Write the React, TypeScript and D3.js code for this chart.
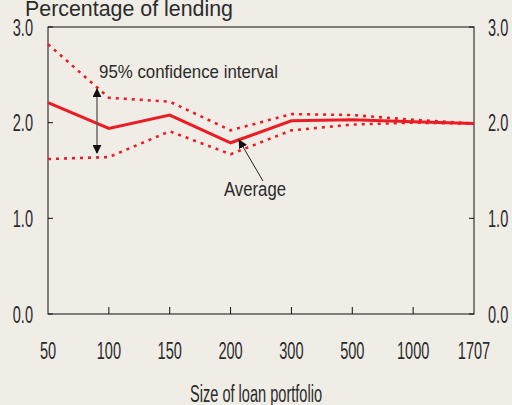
import React from 'react';
import * as d3 from 'd3';

// Loan portfolio size categories (x axis)
const portfolioSizes = ['50', '100', '150', '200', '300', '500', '1000', '1707'];
// Average share of lending, per cent
const averageValues = [2.21, 1.94, 2.08, 1.79, 2.02, 2.03, 2.01, 1.99];
// 95% confidence interval bounds
const upperValues = [2.82, 2.26, 2.22, 1.92, 2.09, 2.08, 2.03, 1.99];
const lowerValues = [1.62, 1.64, 1.91, 1.67, 1.92, 1.98, 2.0, 1.99];
const yTicks = [0, 1, 2, 3];

const W = 512;
const H = 405;
const left = 48;
const right = 474;
const top = 27;
const bottom = 314;
const RED = '#ec1c24';
const INK = '#2b2b2b';
const FONT = '"Liberation Sans", Arial, sans-serif';
const NUM_SIZE = 23.5;
const NUM_SX = 0.62;

const App = () => {
  const x = d3.scalePoint<string>().domain(portfolioSizes).range([left, right]);
  const y = d3.scaleLinear().domain([0, 3]).range([bottom, top]);

  const line = d3.line<number>()
    .x((_, i) => x(portfolioSizes[i]) as number)
    .y(d => y(d));

  // condensed numbers, as in the original
  const num = (label: string, px: number, py: number, anchor: string, key: string) => (
    <text key={key} transform={`translate(${px},${py}) scale(${NUM_SX},1)`}
      textAnchor={anchor} fontSize={NUM_SIZE} fill={INK} fontFamily={FONT}>{label}</text>
  );

  return (
    <div style={{ position: 'absolute', left: 0, top: 0 }}>
      <svg width={W} height={H} style={{ display: 'block', background: '#f0ede7' }}>
        <text x={25} y={16} fontSize={21.5} fill={INK} fontFamily={FONT}
          textLength={208} lengthAdjust="spacingAndGlyphs">Percentage of lending</text>

        {/* frame */}
        <rect x={left} y={top} width={right - left} height={bottom - top}
          fill="none" stroke="#111" strokeWidth={1} />

        {yTicks.map(t => (
          <g key={'y' + t}>
            <line x1={left} x2={left + 5} y1={y(t)} y2={y(t)} stroke="#111" />
            <line x1={right - 5} x2={right} y1={y(t)} y2={y(t)} stroke="#111" />
            {num(t.toFixed(1), 33, y(t) + 8.5, 'end', 'l' + t)}
            {num(t.toFixed(1), 488, y(t) + 8.5, 'start', 'r' + t)}
          </g>
        ))}

        {portfolioSizes.map((c, i) => (
          <g key={c}>
            {i > 0 && i < portfolioSizes.length - 1 &&
              <line x1={x(c)} x2={x(c)} y1={bottom} y2={bottom - 7} stroke="#111" />}
            {num(c, x(c) as number, 359, 'middle', 'x' + c)}
          </g>
        ))}

        <text x={256} y={402} textAnchor="middle" fontSize={23} fill={INK} fontFamily={FONT}
          textLength={132} lengthAdjust="spacingAndGlyphs">Size of loan portfolio</text>

        {/* series */}
        <path d={line(upperValues) as string} fill="none" stroke={RED} strokeWidth={2.6}
          strokeDasharray="3,5" />
        <path d={line(lowerValues) as string} fill="none" stroke={RED} strokeWidth={2.6}
          strokeDasharray="3,5" />
        <path d={line(averageValues) as string} fill="none" stroke={RED} strokeWidth={3}
          strokeLinejoin="miter" />

        {/* annotations */}
        <defs>
          <marker id="ah" viewBox="0 0 10 10" refX={9} refY={5} markerWidth={9} markerHeight={9}
            markerUnits="userSpaceOnUse" orient="auto-start-reverse">
            <path d="M0,0 L10,5 L0,10 Z" fill="#111" />
          </marker>
        </defs>
        <line x1={97} x2={97} y1={89} y2={153} stroke="#555" strokeWidth={1.3}
          markerStart="url(#ah)" markerEnd="url(#ah)" />
        <text x={99} y={78} fontSize={18.5} fill={INK} fontFamily={FONT}
          textLength={179} lengthAdjust="spacingAndGlyphs">95% confidence interval</text>

        <line x1={263} x2={239} y1={181} y2={140} stroke="#222" strokeWidth={1}
          markerEnd="url(#ah)" />
        <text x={224} y={196} fontSize={20.5} fill={INK} fontFamily={FONT}
          textLength={62} lengthAdjust="spacingAndGlyphs">Average</text>
      </svg>
    </div>
  );
};

export default App;
